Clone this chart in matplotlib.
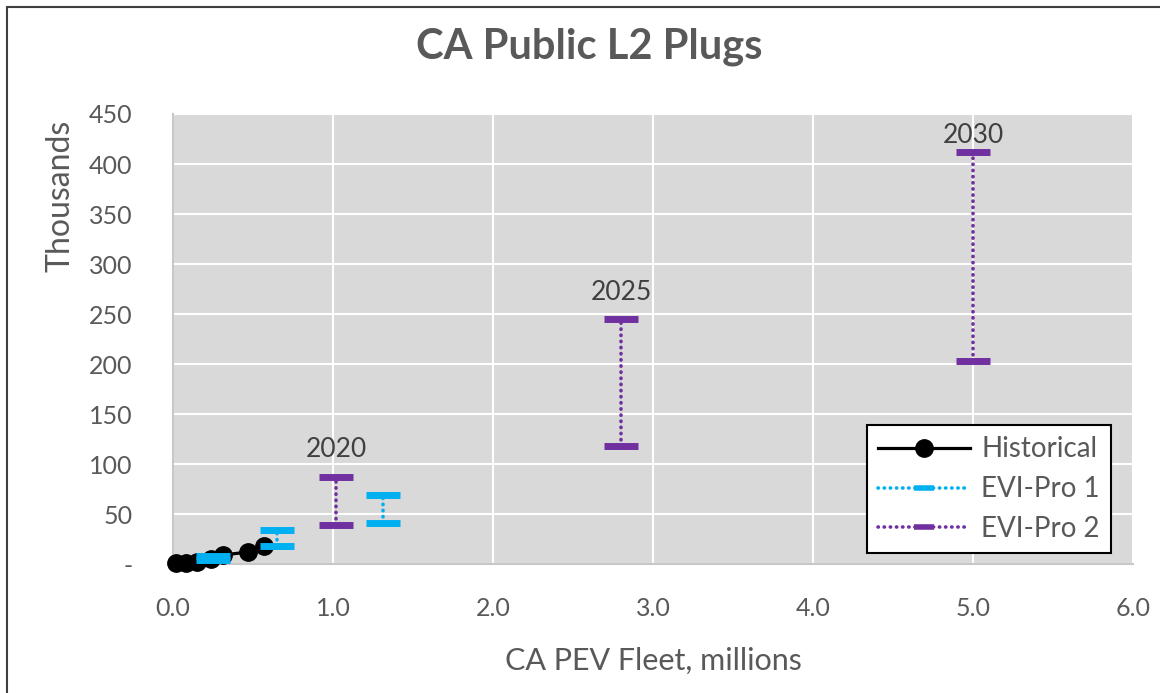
import matplotlib.pyplot as plt
from matplotlib.patches import Rectangle
from matplotlib.ticker import FuncFormatter

# --- Data (PEV fleet in millions, plugs in thousands) ---
hist_fleet = [0.02, 0.08, 0.15, 0.24, 0.31, 0.47, 0.57]
hist_plugs = [1, 1.5, 2.5, 5, 9, 12, 18]

evi1_fleet = [0.25, 0.65, 1.31]
evi1_low = [4.5, 18, 41]
evi1_high = [8.5, 34, 69]

evi2_fleet = [1.02, 2.80, 5.0]
evi2_low = [39, 118, 203]
evi2_high = [87, 245, 412]
evi2_years = ["2020", "2025", "2030"]
year_offsets = [20, 19, 12]  # points above the top cap

# --- Style ---
font = ["Lato", "DejaVu Sans"]
text_col = "#595959"
cyan = "#00B0F0"
purple = "#7030A0"
fs = 19

plt.rcParams["font.family"] = font

fig = plt.figure(figsize=(11.6, 6.93), dpi=100)
ax = fig.add_axes([0.1491, 0.1861, 0.8276, 0.6494])
ax.set_facecolor("#D9D9D9")

ax.plot(hist_fleet, hist_plugs, color="black", lw=2.3, marker="o",
        markersize=12.5, label="Historical", clip_on=False, zorder=3)

def range_bars(xs, lows, highs, color, label):
    for x, lo, hi in zip(xs, lows, highs):
        ax.plot([x, x], [lo, hi], color=color, lw=2.6, linestyle=(0, (0.1, 1.6)),
                dash_capstyle="round", zorder=4)
        ax.plot([x, x], [lo, hi], color=color, lw=0, marker="_",
                markersize=24, mew=5, zorder=5)
    # legend proxy
    ax.plot([], [], color=color, lw=2.6, linestyle=(0, (0.1, 1.6)),
            dash_capstyle="round", marker="_", markersize=14, mew=4, label=label)

range_bars(evi1_fleet, evi1_low, evi1_high, cyan, "EVI-Pro 1")
range_bars(evi2_fleet, evi2_low, evi2_high, purple, "EVI-Pro 2")

for x, hi, yr, off in zip(evi2_fleet, evi2_high, evi2_years, year_offsets):
    ax.annotate(yr, (x, hi), xytext=(0, off), textcoords="offset points",
                ha="center", va="center", fontsize=fs, color="#404040")

ax.set_xlim(0, 6)
ax.set_ylim(0, 450)
ax.set_xticks([0, 1, 2, 3, 4, 5, 6])
ax.set_yticks(range(0, 451, 50))
ax.xaxis.set_major_formatter(FuncFormatter(lambda v, p: f"{v:.1f}"))
ax.yaxis.set_major_formatter(FuncFormatter(lambda v, p: "-" if v == 0 else f"{v:.0f}"))
ax.tick_params(length=0, labelsize=fs - 1, labelcolor=text_col)
ax.tick_params(axis="x", pad=24)
ax.tick_params(axis="y", pad=29)
ax.grid(True, color="white", lw=1.5)
ax.set_axisbelow(True)
for side in ["top", "right"]:
    ax.spines[side].set_visible(False)
for side in ["left", "bottom"]:
    ax.spines[side].set_color("#C8C8C8")
    ax.spines[side].set_linewidth(1.5)

ax.set_xlabel("CA PEV Fleet, millions", fontsize=22, color=text_col)
ax.xaxis.set_label_coords(0.5, -0.183)
ax.set_ylabel("Thousands", fontsize=23, color=text_col)
ax.yaxis.set_label_coords(-0.102, 0.818)
fig.text(0.508, 0.933, "CA Public L2 Plugs", fontsize=30, fontweight="bold",
         color=text_col, ha="center", va="center")

leg = ax.legend(loc="lower right", bbox_to_anchor=(0.977, 0.024), fontsize=fs + 1,
                frameon=True, fancybox=False, framealpha=1, edgecolor="black",
                handlelength=3.3, numpoints=1, labelspacing=0.5,
                borderpad=0.4, handletextpad=0.4, borderaxespad=0)
leg.get_frame().set_linewidth(1.5)
for t in leg.get_texts():
    t.set_color(text_col)

# outer chart border
fig.patches.append(Rectangle((7 / 1160, -0.1), 1.2, 1.1 - 7 / 693, transform=fig.transFigure,
                             fill=False, edgecolor="#404040", lw=1.5))

plt.savefig("out.png", dpi=100)
